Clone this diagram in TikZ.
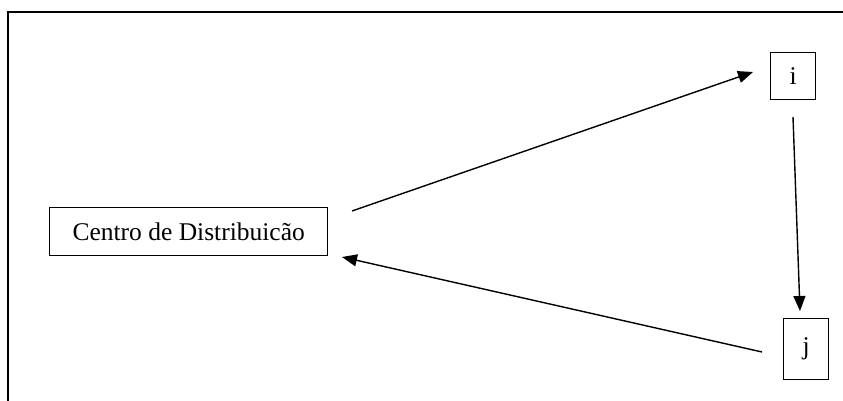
\documentclass[tikz,border=0pt]{standalone}
\usepackage{fontspec}
\setmainfont{Liberation Serif}
\usetikzlibrary{arrows.meta}
\begin{document}
\begin{tikzpicture}[x=1pt,y=-1pt,
  frameline/.style={line width=2pt},
  boxnode/.style={draw, line width=1.4pt, inner sep=0pt, anchor=north west},
  flow/.style={line width=1.4pt, -{Triangle[length=15pt,width=12pt]}}]
  \useasboundingbox (0,0) rectangle (843,401);
  % open frame: top and left edges
  \draw[frameline] (843,12) -- (8,12) -- (8,401);
  % nodes
  \node[boxnode, minimum width=278pt, minimum height=48pt,
        font=\fontsize{25.5}{30}\selectfont] (cd) at (49,207) {Centro de Distribuicão};
  \node[boxnode, minimum width=45pt, minimum height=47pt,
        font=\fontsize{25.5}{30}\selectfont] (i) at (770,52) {i};
  \node[boxnode, minimum width=45pt, minimum height=61pt,
        font=\fontsize{25.5}{30}\selectfont] (j) at (783,318) {j};
  % arrow end points (arrows stop short of the boxes)
  \coordinate (a1s) at (352,211);
  \coordinate (a1e) at (753,72);
  \coordinate (a2s) at (793,117);
  \coordinate (a2e) at (800,311);
  \coordinate (a3s) at (762,352);
  \coordinate (a3e) at (342,257);
  \draw[flow] (a1s) -- (a1e);
  \draw[flow] (a2s) -- (a2e);
  \draw[flow] (a3s) -- (a3e);
\end{tikzpicture}
\end{document}
